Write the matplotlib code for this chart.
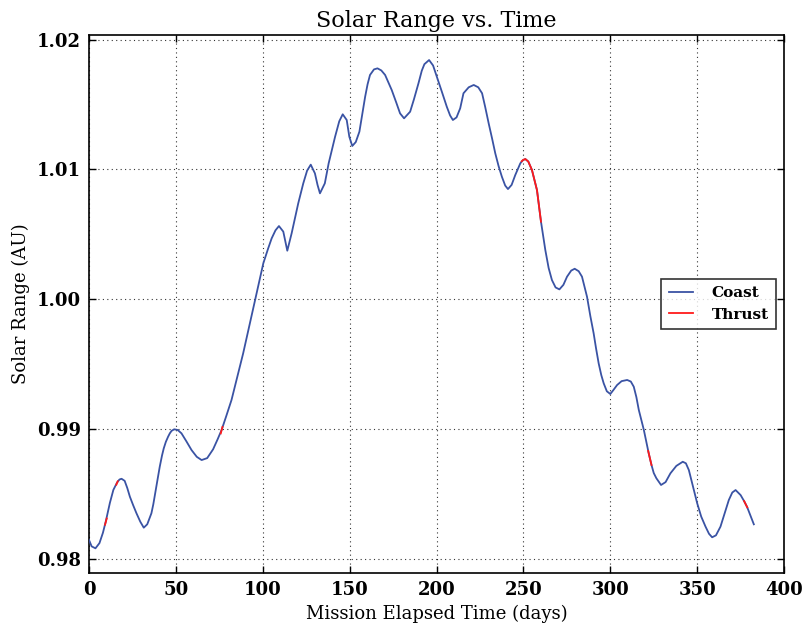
import matplotlib
matplotlib.use("Agg")
import matplotlib.pyplot as plt
from matplotlib.ticker import FormatStrFormatter

# Solar range history (days, AU)
time_days = [0.0, 1.5, 3.7, 6.0, 8.0, 9.6, 12.0, 14.0, 16.1, 17.5, 18.7, 20.5, 22.0,
             23.5, 25.4, 27.3, 29.5, 31.5, 33.5, 35.9, 37.0, 38.0, 39.3, 40.7, 42.0,
             43.0, 44.2, 45.5, 46.5, 47.5, 49.0, 51.0, 53.2, 56.0, 59.0, 62.0, 64.8,
             68.0, 71.4, 74.0, 76.3, 79.0, 82.0, 84.9, 88.7, 92.0, 95.5, 100.3, 103.1,
             105.1, 107.3, 109.3, 111.8, 114.1, 116.6, 120.4, 123.3, 125.5, 127.6,
             130.0, 131.5, 132.9, 135.7, 137.9, 141.6, 144.0, 146.0, 148.3, 149.8,
             151.5, 153.5, 155.6, 157.3, 158.9, 160.3, 161.7, 164.0, 166.0, 168.2,
             170.4, 174.2, 176.8, 179.0, 181.3, 184.8, 187.0, 189.6, 191.5, 193.0,
             195.7, 198.0, 200.2, 203.0, 205.9, 207.8, 209.4, 211.5, 213.6, 215.5,
             218.5, 221.4, 224.0, 226.2, 228.0, 230.0, 232.0, 233.8, 235.7, 237.6,
             239.5, 241.1, 243.2, 245.3, 248.2, 249.8, 251.1, 252.8, 254.9, 257.8,
             260.1, 262.6, 264.5, 266.4, 268.5, 270.7, 273.0, 275.1, 277.5, 279.5,
             281.8, 283.7, 286.6, 288.5, 290.4, 291.8, 293.3, 294.8, 296.2, 298.0,
             300.0, 301.8, 303.9, 306.5, 309.7, 311.8, 313.5, 315.0, 316.4, 317.8,
             319.3, 322.1, 323.7, 325.0, 326.5, 329.2, 331.8, 334.6, 338.0, 341.7,
             343.5, 345.2, 347.5, 350.0, 352.3, 354.8, 356.8, 358.6, 360.8, 363.4,
             365.8, 368.2, 370.2, 372.1, 375.0, 377.2, 378.8, 382.6]
range_au = [0.98144, 0.98095, 0.98080, 0.98120, 0.98200, 0.98285, 0.98430, 0.98530,
            0.98586, 0.98610, 0.98616, 0.98600, 0.98545, 0.98478, 0.98412, 0.98350,
            0.98285, 0.98239, 0.98265, 0.98350, 0.98420, 0.98500, 0.98600, 0.98709,
            0.98795, 0.98850, 0.98900, 0.98940, 0.98966, 0.98985, 0.98997, 0.98992,
            0.98966, 0.98905, 0.98837, 0.98785, 0.98760, 0.98775, 0.98843, 0.98920,
            0.98992, 0.99100, 0.99223, 0.99377, 0.99582, 0.99780, 0.99993, 1.00276,
            1.00391, 1.00468, 1.00530, 1.00563, 1.00520, 1.00373, 1.00507, 1.00738,
            1.00892, 1.00990, 1.01036, 1.00969, 1.00880, 1.00815, 1.00892, 1.01046,
            1.01251, 1.01370, 1.01424, 1.01380, 1.01251, 1.01180, 1.01210, 1.01290,
            1.01431, 1.01559, 1.01655, 1.01727, 1.01770, 1.01778, 1.01762, 1.01727,
            1.01611, 1.01515, 1.01431, 1.01393, 1.01444, 1.01540, 1.01663, 1.01760,
            1.01810, 1.01842, 1.01800, 1.01713, 1.01600, 1.01482, 1.01415, 1.01380,
            1.01400, 1.01470, 1.01586, 1.01632, 1.01650, 1.01632, 1.01586, 1.01480,
            1.01354, 1.01235, 1.01123, 1.01025, 1.00943, 1.00875, 1.00848, 1.00880,
            1.00956, 1.01046, 1.01072, 1.01079, 1.01060, 1.00995, 1.00840, 1.00597,
            1.00378, 1.00240, 1.00147, 1.00090, 1.00075, 1.00110, 1.00173, 1.00220,
            1.00234, 1.00215, 1.00173, 1.00018, 0.99870, 0.99737, 0.99620, 0.99505,
            0.99415, 0.99351, 0.99290, 0.99269, 0.99300, 0.99338, 0.99368, 0.99377,
            0.99365, 0.99325, 0.99245, 0.99146, 0.99070, 0.98992, 0.98812, 0.98722,
            0.98660, 0.98620, 0.98568, 0.98590, 0.98658, 0.98715, 0.98747, 0.98735,
            0.98683, 0.98560, 0.98427, 0.98325, 0.98247, 0.98192, 0.98165, 0.98180,
            0.98247, 0.98350, 0.98452, 0.98510, 0.98529, 0.98490, 0.98439, 0.98396,
            0.98265]

# Thrust arcs (days, AU)
thrust_arcs = [
    ([9.2, 10.2], [0.98262, 0.98310]),
    ([15.7, 16.5], [0.98570, 0.98596]),
    ([75.8, 76.8], [0.98965, 0.99015]),
    ([249.0, 249.8, 251.1, 252.8, 254.9, 257.8, 260.1],
     [1.01062, 1.01072, 1.01079, 1.01060, 1.00995, 1.00840, 1.00597]),
    ([321.8, 323.7], [0.98830, 0.98722]),
    ([377.0, 378.8], [0.98444, 0.98396]),
]

x_ticks = [0, 50, 100, 150, 200, 250, 300, 350, 400]
y_ticks = [0.98, 0.99, 1.00, 1.01, 1.02]

coast_color = "#3a53a4"
thrust_color = "#ff1a1a"

plt.rcParams["font.family"] = ["DejaVu Serif"]

fig = plt.figure(figsize=(8.05, 6.26), dpi=100)
ax = fig.add_axes([0.1106, 0.0847, 0.8634, 0.8594])

ax.plot(time_days, range_au, color=coast_color, lw=1.3, label="Coast",
        solid_joinstyle="round", zorder=3)
for i, (t, r) in enumerate(thrust_arcs):
    ax.plot(t, r, color=thrust_color, lw=1.3, zorder=4,
            solid_joinstyle="round", label="Thrust" if i == 0 else None)

ax.set_xlim(0, 400)
ax.set_ylim(0.9789, 1.02035)
ax.set_xticks(x_ticks)
ax.set_yticks(y_ticks)
ax.yaxis.set_major_formatter(FormatStrFormatter("%.2f"))

ax.grid(True, color="black", linestyle=(0, (1, 3)), linewidth=0.8, alpha=0.8)
ax.set_axisbelow(True)
ax.tick_params(direction="in", length=5, width=1, top=True, right=True,
               labelsize=13, pad=6)
for lab in ax.get_xticklabels() + ax.get_yticklabels():
    lab.set_fontweight("bold")
for sp in ax.spines.values():
    sp.set_linewidth(1.2)
    sp.set_color("black")

ax.set_title("Solar Range vs. Time", fontsize=16, pad=6)
ax.set_xlabel("Mission Elapsed Time (days)", fontsize=13, labelpad=4)
ax.set_ylabel("Solar Range (AU)", fontsize=13, labelpad=5)

leg = ax.legend(loc="center right", fancybox=False, frameon=True,
                prop={"weight": "bold", "size": 11}, handlelength=1.6,
                borderpad=0.5, labelspacing=0.5, handletextpad=1.2)
leg.get_frame().set_edgecolor("black")
leg.get_frame().set_linewidth(1.2)

fig.savefig("out.png", dpi=100, facecolor="white")
